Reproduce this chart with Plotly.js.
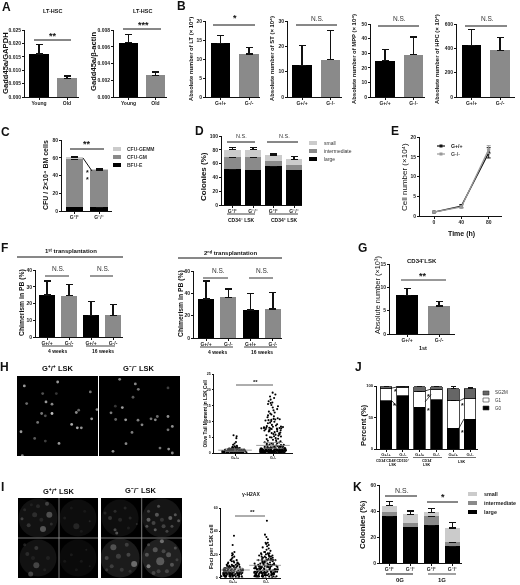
<!DOCTYPE html>
<html><head><meta charset="utf-8">
<script src="https://cdn.plot.ly/plotly-3.0.0.min.js"></script>
<style>html,body{margin:0;padding:0;background:#fff}#g{width:520px;height:585px;filter:blur(0.3px)}</style>
</head><body><div id="g"></div>
<script>
// ---------- data ----------
const youngOld = ['Young','Old'];
const wtKo = ['G+/+','G-/-'];
const wtKoSup = ['G⁺/⁺','G⁻/⁻'];
const a1Values=[0.016,0.007], a1Err=[0.0035,0.0008];
const a2Values=[0.0065,0.0026], a2Err=[0.001,0.0004];
const bLtValues=[14.1,11.3], bLtErr=[2.1,1.8];
const bStValues=[12.5,14.7], bStErr=[7.8,11.5];
const bMppValues=[25,29], bMppErr=[7.3,12];
const bHpcValues=[425,383], bHpcErr=[130,105];
const cBfu=[5,4.5], cBfuErr=[1,0.8];
const cGm=[53.5,41.7], cGmErr=[1,0.8];
const cGemm=[2,0.8], cGemmErr=[0.5,0.5];
const dLabels=['G⁺/⁺','G⁻/⁻','G⁺/⁺','G⁻/⁻'];
const dLarge=[52,51,56,51.4], dLargeErr=[8,7.5,2.5,3];
const dInter=[17,18,8,7.2], dInterErr=[7,9,2,2];
const dSmall=[11,11,8,7.4], dSmallErr=[3,3,2,4];
const eTime=[0,40,80];
const eWt=[1,2.5,16], eWtErr=[0.2,0.4,1.3];
const eKo=[1,2.3,16.8], eKoErr=[0.2,0.3,1];
const fLabels=['G+/+','G-/-','G+/+','G-/-'];
const f1Values=[25,24.7,13,13], f1Err=[8.5,6.8,8,6.5];
const f2Values=[35,36.5,25,26], f2Err=[16,7.5,15,14.5];
const gValues=[8.3,6], gErr=[1.4,0.9];
const jLabels=['G+/+','G-/-','G+/+','G-/-','G+/+','G-/-'];
const jG0=[76.5,84.5,66,78,33,47], jG0Err=[5.5,3.5,7,6,2,9];
const jG1=[19.5,12.5,26,16,44,33], jG1Err=[0.8,0.8,1,1,1,7];
const jS=[3,2.5,7,5,19,16], jSErr=[1.2,1,1.5,1.5,3,2];
const kLabels=['G⁺/⁺','G⁻/⁻','G⁺/⁺','G⁻/⁻'];
const kLarge=[36,28,29,13], kLargeErr=[5,4,4.5,3];
const kInter=[3.5,3,7,3], kInterErr=[0.5,0.5,0.5,0.5];
const kSmall=[4.5,6.5,3,11], kSmallErr=[3.5,2.5,3,4];
const hWt=[0.05,0.05,0.1,0.1,0.1,0.1,0.15,0.15,0.2,0.2,0.2,0.2,0.2,0.2,0.25,0.25,0.3,0.3,0.3,0.3,0.3,0.3,0.3,0.35,0.35,0.4,0.4,0.4,0.4,0.4,0.4,0.4,0.45,0.45,0.5,0.5,0.5,0.5,0.5,0.5,0.5,0.55,0.55,0.6,0.6,0.6,0.6,0.6,0.6,0.65,0.65,0.7,0.7,0.7,0.7,0.7,0.7,0.75,0.75,0.8,0.8,0.8,0.8,0.8,0.85,0.85,0.9,0.9,0.9,0.9,0.95,1,1,1,1,1,1,1.1,1.1,1.1,1.2,1.2,1.2,1.2,1.3,1.3,1.3,1.4,1.4,1.5,1.5,1.5,1.6,1.6,1.7,1.8,1.9,2,2.1,2.3,2.6,3,3.5,4.7,5.3,5.6];
const hKo=[0.05,0.05,0.05,0.1,0.1,0.1,0.1,0.1,0.15,0.15,0.15,0.2,0.2,0.2,0.2,0.2,0.2,0.25,0.25,0.25,0.3,0.3,0.3,0.3,0.3,0.3,0.3,0.35,0.35,0.35,0.4,0.4,0.4,0.4,0.4,0.4,0.45,0.45,0.45,0.5,0.5,0.5,0.5,0.5,0.5,0.5,0.5,0.55,0.55,0.55,0.6,0.6,0.6,0.6,0.6,0.6,0.6,0.65,0.65,0.7,0.7,0.7,0.7,0.7,0.7,0.75,0.75,0.8,0.8,0.8,0.8,0.8,0.8,0.85,0.85,0.9,0.9,0.9,0.9,0.9,0.95,0.95,1,1,1,1,1,1,1,1.05,1.1,1.1,1.1,1.1,1.15,1.2,1.2,1.2,1.2,1.25,1.3,1.3,1.3,1.3,1.4,1.4,1.4,1.4,1.5,1.5,1.5,1.5,1.6,1.6,1.6,1.7,1.7,1.7,1.8,1.8,1.8,1.9,1.9,2,2,2,2.1,2.1,2.2,2.2,2.3,2.3,2.4,2.5,2.5,2.6,2.7,2.8,2.9,3,3.1,3.3,3.4,3.5,3.7,3.9,4,4.2,4.4,4.5,4.7,4.9,5,5.2,5.3,5.5,5.6,5.8,5.9,6,6.2,6.3,6.5,6.6,6.8,6.9,7,7.1,7.2,7.3,7.4,7.5,7.6,7.7,7.7,7.8,7.8,7.9,7.9,8,8,8.1,8.2,8.3,8.4,8.5,8.7,8.9,9.1,9.4,9.6,9.9,10.1,10.3,10.4,10.5,10.6,10.7,10.8,11,11.3,11.6,11.9,12.2,12.5,12.8,13.1,13.5,13.9,14.4,14.8,15.2,15.5,15.8,16,16.4,16.9,17.4,17.9,18.5,19.1];
const iWt=[0,0,0,0,0,0,0,0,1,1,1,1,1,1,1,1,1,1,1,1,2,2,2,2,2,2,2,2,2,2,2,2,3,3,3,3,3,3,3,3,3,3,3,3,4,4,4,4,4,4,4,4,4,4,4,5,5,5,5,5,5,5,5,5,5,6,6,6,6,6,6,6,6,6,7,7,7,7,7,7,7,7,8,8,8,8,8,8,8,9,9,9,9,9,10,10,10,10,10,11,11,11,11,12,12,12,13,13,13,14,14,15,15,16,17,18,19,20,21,22,28,36];
const iKo=[0,0,0,0,0,0,0,0,1,1,1,1,1,1,1,1,1,1,1,2,2,2,2,2,2,2,2,2,2,2,3,3,3,3,3,3,3,3,3,3,3,4,4,4,4,4,4,4,4,4,4,5,5,5,5,5,5,5,5,5,5,6,6,6,6,6,6,6,6,6,7,7,7,7,7,7,7,7,7,8,8,8,8,8,8,8,8,9,9,9,9,9,9,9,10,10,10,10,10,10,10,11,11,11,11,11,11,12,12,12,12,12,12,13,13,13,13,14,14,14,14,15,15,15,15,15,15,15,15,15,15,16,16,16,16,17,17,17,18,18,18,18,19,19,19,20,20,20,21,21,21,22,22,23,24,25,26,27,28,29,30,30,33,35,37,49];
const hMean=[0.9,2.4], hSem=[0.4,0.9];
const iMean=[6.5,10.5], iSem=[1.5,4.5];
// comet-assay spots (image coordinates)
const h1X=[72,172,270,127,168,137,155,79,124,135,155,228,235,290,274,112,214,231,243,62,103,135,176,66];
const h1Y=[92,80,110,115,115,140,147,145,175,182,175,172,165,163,191,202,208,218,218,230,250,258,265,302];
const h1G=[170,170,130,90,60,170,150,120,130,90,210,150,110,150,170,130,190,190,160,170,100,70,170,150];
const h2X=[360,407,416,505,400,347,368,334,348,378,415,427,454,467,473,505,518,505,397,379,340,481,507,518];
const h2Y=[72,86,102,98,126,153,157,173,193,194,195,209,191,194,184,184,214,224,232,266,289,279,282,294];
const h2G=[150,150,130,70,100,60,170,140,110,170,140,150,130,150,120,160,160,130,140,150,160,130,160,150];
// gamma-H2AX nuclei (image coordinates, size, grey level)
const iCellX=[70,190,70,190,315,440,315,440];
const iCellY=[70,70,190,190,70,70,190,190];
const iCellS=[39,37,37,37,37,39,39,39];
const iCellG=[26,18,26,14,20,30,38,46];
const iFociX=[104,85,97,22,42,60,70,110,30,80,50,185,150,210,170,225,200,65,48,65,38,100,30,90,55,170,200,215,150,185,225,300,305,285,300,330,345,270,340,315,365,400,425,465,420,445,480,430,400,455,490,415,470,395,440,357,295,275,310,335,290,340,320,275,345,440,400,435,420,460,395,470,455,415,480,445,430,400,485];
const iFociY=[60,103,27,72,92,60,35,88,45,75,30,95,70,50,40,80,110,212,238,160,178,190,150,225,190,180,200,165,200,225,215,105,115,70,50,40,70,55,100,75,88,75,60,70,105,95,60,35,50,110,78,85,95,95,75,208,158,190,185,150,215,180,225,225,230,140,215,200,165,180,180,210,230,235,160,170,230,150,195];
const iFociS=[6,6,4,3,4,5,4,3,3,4,3,6,3,3,3,2,3,6,5,4,4,4,3,3,4,3,3,2,3,3,2,3,3,4,3,3,3,3,3,4,2,4,4,4,3,4,3,3,3,3,3,4,3,3,4,6,6,4,5,4,4,4,4,3,3,4,4,8,5,5,4,4,4,4,3,4,4,3,3];
const iFociG=[110,120,90,90,70,60,50,60,50,50,40,50,40,30,30,50,30,95,95,70,55,40,50,40,40,35,30,40,30,30,35,110,120,70,60,50,50,50,40,50,60,130,120,130,130,90,120,110,90,90,120,90,100,110,70,150,110,90,80,80,80,90,70,70,60,150,170,120,110,110,110,110,90,90,100,90,80,90,80];

// ---------- helpers ----------
const FONT='Liberation Sans, Arial, sans-serif';
const W=520,H=585;
const data=[],shapes=[],ann=[],layout={};
const imageAxes=[];
let n=0;
const px=v=>v/W, py=v=>1-v/H;
function T(text,x,y,size,o={}){
  ann.push({text,x:px(x),y:py(y),xref:'paper',yref:'paper',showarrow:false,xanchor:o.anchor||'center',yanchor:'middle',
    textangle:o.angle||0,font:{family:FONT,size,color:o.color||'#111',weight:o.bold?700:400}});
}
function L(x0,y0,x1,y1,w=1,c='#111'){shapes.push({type:'line',xref:'paper',yref:'paper',x0:px(x0),x1:px(x1),y0:py(y0),y1:py(y1),line:{color:c,width:w}});}
function R(x0,y0,x1,y1,c,border){shapes.push({type:'rect',xref:'paper',yref:'paper',x0:px(x0),x1:px(x1),y0:py(y0),y1:py(y1),fillcolor:c,line:{width:border?0.6:0,color:'#333'}});}
function axes(ax0,ax1,top,bot,xr,yr,xo,yo,tick=5){
  n++;const id=n===1?'':n;
  layout['xaxis'+id]=Object.assign({domain:[px(ax0),px(ax1)],range:xr,anchor:'y'+id,showline:true,linecolor:'#111',linewidth:1,ticks:'outside',ticklen:2,tickwidth:1,tickcolor:'#111',showgrid:false,zeroline:false,fixedrange:true,tickfont:{family:FONT,size:tick,weight:700,color:'#222'},ticklabelstandoff:-1},xo||{});
  layout['yaxis'+id]=Object.assign({domain:[py(bot),py(top)],range:yr,anchor:'x'+id,showline:true,linecolor:'#111',linewidth:1,ticks:'outside',ticklen:2,tickwidth:1,tickcolor:'#111',showgrid:false,zeroline:false,fixedrange:true,tickfont:{family:FONT,size:tick,weight:700,color:'#222'}},yo||{});
  return {x:'x'+id,y:'y'+id};
}
function barPanel(o){
  const {ax0,ax1,top,bot,c0,s,barPx,ymax,ticks,labels,series,fmt}=o;
  const xr=[(ax0-c0)/s,(ax1-c0)/s];
  const a=axes(ax0,ax1,top,bot,xr,[0,ymax],
    {tickmode:'array',tickvals:labels.map((_,i)=>i),ticktext:labels},
    {tickmode:'array',tickvals:ticks,ticktext:ticks.map(t=>fmt?t.toFixed(fmt):String(t))},o.tick||5);
  series.forEach(t=>data.push({type:'bar',xaxis:a.x,yaxis:a.y,x:labels.map((_,i)=>i),y:t.y,width:barPx/s,
    marker:{color:t.c,line:{width:o.outline||0,color:'#000'}},
    error_y:{type:'data',symmetric:false,array:t.e,arrayminus:t.e.map(()=>0),color:'#111',thickness:o.eth||1.3,width:o.ew||3.5}}));
}
const K='#000',G='#8a8a8a',LG='#cbcbcb';
function stars(x,y,t,size=9){T(t,x,y,size,{bold:true});}
function ns(x,y,size=6.5){T('N.S.',x,y,size,{color:'#333'});}

// ---------- A ----------
T('A',6,7,12,{bold:true});
T('LT-HSC',52,11,5.5,{bold:true});
barPanel({ax0:25,ax1:79,top:30,bot:97,c0:39,s:28,barPx:19.5,ymax:0.025,ticks:[0,0.005,0.01,0.015,0.02,0.025],fmt:3,labels:youngOld,
  series:[{y:a1Values,e:a1Err,c:K}]});
data[data.length-1].marker.color=[K,G];
T('Gadd45a/GAPDH',5,63,7.6,{angle:-90,bold:true});
L(34,40,71,40);stars(53,36,'**');
T('LT-HSC',142,11,5.5,{bold:true});
barPanel({ax0:114,ax1:167,top:30,bot:97,c0:128.5,s:27,barPx:19,ymax:0.008,ticks:[0,0.002,0.004,0.006,0.008],fmt:3,labels:youngOld,
  series:[{y:a2Values,e:a2Err,c:K}]});
data[data.length-1].marker.color=[K,G];
T('Gadd45a/β-actin',94,62,7.6,{angle:-90,bold:true});
L(123,29,161,29);stars(143,25,'***');

// ---------- B ----------
T('B',181,6,12,{bold:true});
function bPanel(ax0,ax1,top,c0,s,ymax,ticks,vals,err,title,tx){
  barPanel({ax0,ax1,top,bot:97,c0,s,barPx:19.5,ymax,ticks,labels:wtKo,series:[{y:vals,e:err,c:K}]});
  data[data.length-1].marker.color=[K,G];
  T(title,tx,59,5.9,{angle:-90,bold:true});
}
bPanel(206,260,21,220.5,28.5,20,[0,5,10,15,20],bLtValues,bLtErr,'Absolute number of LT (× 10⁴)',191);
L(213,25,255,25);stars(235,18,'*');
bPanel(288,342,21,302,28.5,30,[0,10,20,30],bStValues,bStErr,'Absolute number of ST (× 10⁴)',272);
L(296,25,337,25);ns(317,18);
bPanel(371,425,24,385,28.5,50,[0,10,20,30,40,50],bMppValues,bMppErr,'Absolute number of MPP (× 10⁴)',354);
L(378,26,419,26);ns(399,19);
bPanel(457,515,24,471.5,28.5,600,[0,200,400,600],bHpcValues,bHpcErr,'Absolute number of HPC (× 10⁴)',437);
L(465,26,507,26);ns(487,19);

// ---------- C ----------
T('C',5,132,12,{bold:true});
barPanel({ax0:62,ax1:112,top:140,bot:211,c0:74.5,s:24.5,barPx:17.5,ymax:80,ticks:[0,20,40,60,80],labels:wtKoSup,
  series:[{y:cBfu,e:cBfuErr,c:K},{y:cGm,e:cGmErr,c:G},{y:cGemm,e:cGemmErr,c:LG}]});
T('CFU / 2×10⁴ BM cells',45,175,7,{angle:-90,bold:true});
L(70,149,104,149);stars(87,144,'**');
L(83,158,92,171);T('*',87,172,7,{bold:true});T('*',87,179,7,{bold:true});
[[149,LG,'CFU-GEMM'],[157,G,'CFU-GM'],[165,K,'BFU-E']].forEach(r=>{R(113,r[0]-2,121,r[0]+2,r[1]);T(r[2],125,r[0],5,{anchor:'left',bold:true,color:'#333'});});

// ---------- D ----------
T('D',199,131,12,{bold:true});
barPanel({ax0:222,ax1:302,top:136,bot:205,c0:232.5,s:20.5,barPx:16.5,ymax:100,ticks:[0,20,40,60,80,100],labels:dLabels,
  series:[{y:dLarge,e:dLargeErr,c:K},{y:dInter,e:dInterErr,c:G},{y:dSmall,e:dSmallErr,c:LG}]});
T('Colonies (%)',203,177,8,{angle:-90,bold:true});
L(227,142,255,142);ns(241,136,5.5);L(267,142,298,142);ns(284,136,5.5);
L(227,214,255,214,0.8);L(269,214,298,214,0.8);
T('CD34⁻ LSK',241,220,5,{bold:true});T('CD34⁺ LSK',284,220,5,{bold:true});
[[143,LG,'small'],[151,G,'intermediate'],[159,K,'large']].forEach(r=>{R(309,r[0]-2,317,r[0]+2,r[1]);T(r[2],322,r[0],5,{anchor:'left',color:'#333'});});

// ---------- E ----------
T('E',395,131,12,{bold:true});
const eAx=axes(420,502,137,216,[-20.5,99.5],[0,20],{tickmode:'array',tickvals:eTime},{tickmode:'array',tickvals:[0,5,10,15,20]});
[[eWt,eWtErr,'#111'],[eKo,eKoErr,'#999']].forEach(r=>data.push({type:'scatter',mode:'lines+markers',xaxis:eAx.x,yaxis:eAx.y,x:eTime,y:r[0],
  line:{color:r[2],width:1.3},marker:{color:r[2],size:3.5},error_y:{type:'data',array:r[1],color:r[2],thickness:1,width:2}}));
T('Cell number (×10⁴)',404,177,8,{angle:-90});
T('Time (h)',461,234,7,{bold:true});
L(437,146,445,146,1.2,'#111');L(437,154,445,154,1.2,'#999');R(439.5,144.5,442.5,147.5,'#111');R(439.5,152.5,442.5,155.5,'#999');
T('G+/+',449,145.5,5.2,{anchor:'left',bold:true});T('G-/-',449,154,5.2,{anchor:'left',bold:true,color:'#444'});

// ---------- F ----------
T('F',4,248,12,{bold:true});
T('1ˢᵗ transplantation',71,251,6,{bold:true});L(17,257,123,257);
barPanel({ax0:36,ax1:123,top:270,bot:337,c0:47,s:22,barPx:16,ymax:40,ticks:[0,10,20,30,40],labels:fLabels,series:[{y:f1Values,e:f1Err,c:K}]});
data[data.length-1].marker.color=[K,G,K,G];
T('Chimerism in PB (%)',22,303,6.8,{angle:-90,bold:true});
L(45,276,69,276,1,'#333');ns(58,269);L(90,276,113,276,1,'#333');ns(103,269);
L(42,346,73,346,0.8);L(86,346,115,346,0.8);T('4 weeks',57,350.5,5,{bold:true});T('16 weeks',103,350.5,5,{bold:true});
T('2ⁿᵈ transplantation',230,253,6,{bold:true});L(178,258,282,258);
barPanel({ax0:194,ax1:282,top:271,bot:338,c0:206,s:22.3,barPx:16,ymax:60,ticks:[0,20,40,60],labels:fLabels,series:[{y:f2Values,e:f2Err,c:K}]});
data[data.length-1].marker.color=[K,G,K,G];
T('Chimerism in PB (%)',181,304,6.8,{angle:-90,bold:true});
L(203,278,228,278,1,'#333');ns(218,270);L(249,278,273,278,1,'#333');ns(262,270);
L(200,347,233,347,0.8);L(244,347,277,347,0.8);T('4 weeks',217,352,5,{bold:true});T('16 weeks',262,352,5,{bold:true});

// ---------- G ----------
T('G',362,248,12,{bold:true});
T('CD34⁻LSK',422,261,6,{bold:true});
barPanel({ax0:390,ax1:455,top:264,bot:334,c0:407,s:32,barPx:22,ymax:15,ticks:[0,5,10,15],labels:wtKo,series:[{y:gValues,e:gErr,c:K}]});
data[data.length-1].marker.color=[K,G];
T('Absolute number (×10³)',377,295,7.4,{angle:-90});
L(401,280,446,280,1,'#333');stars(423,275.5,'**');
T('1st',423,348,5.5,{bold:true});

// ---------- H ----------
T('H',4,367,12,{bold:true});
T('G⁺/⁺ LSK',58,368,7.5,{bold:true});T('G⁻/⁻ LSK',139,368,7.5,{bold:true});
function image(ax0,ax1,top,bot,xr,yr,blur){
  R(ax0,top,ax1,bot,'#000');
  shapes[shapes.length-1].layer='below';
  const off={showticklabels:false,showline:false,ticks:'',tickmode:'array',tickvals:[]};
  const a=axes(ax0,ax1,top,bot,xr,yr,off,off);
  imageAxes.push([a.x+a.y,blur]);
  return a;
}
const h1=image(17,98,376,456,[50,293],[303,62],0.5);
data.push({type:'scatter',mode:'markers',xaxis:h1.x,yaxis:h1.y,x:h1X,y:h1Y,marker:{size:2.8,opacity:0.9,color:h1G.map(v=>`rgb(${v},${v},${v})`),line:{width:0}}});
const h2=image(99,180,376,456,[298,541],[303,62],0.5);
data.push({type:'scatter',mode:'markers',xaxis:h2.x,yaxis:h2.y,x:h2X,y:h2Y,marker:{size:2.8,opacity:0.9,color:h2G.map(v=>`rgb(${v},${v},${v})`),line:{width:0}}});
function swarm(ax0,ax1,top,bot,c0,s,ymax,ticks,a,b,mean,sem,barW){
  const ax=axes(ax0,ax1,top,bot,[(ax0-c0)/s,(ax1-c0)/s],[0,ymax],{tickmode:'array',tickvals:[0,1],ticktext:wtKo,ticklen:1.5},{tickmode:'array',tickvals:ticks,ticklen:1.5},3.6);
  [a,b].forEach((v,i)=>data.push({type:'box',xaxis:ax.x,yaxis:ax.y,y:v,x0:i,width:barW[i],boxpoints:'all',jitter:1,pointpos:0,
    line:{width:0,color:'rgba(0,0,0,0)'},fillcolor:'rgba(0,0,0,0)',marker:{size:2.1,color:'#000'}}));
  data.push({type:'scatter',mode:'markers',xaxis:ax.x,yaxis:ax.y,x:[0,1],y:mean,marker:{symbol:'line-ew-open',size:24,color:'#888',line:{width:0.8,color:'#888'}},
    error_y:{type:'data',array:sem,color:'#888',thickness:0.8,width:10}});
}
swarm(214,293,374,453,235,38,25,[0,5,10,15,20,25],hWt,hKo,hMean,hSem,[0.68,0.68]);
T('Olive Tail Moment in LSK Cell',204.5,414,4.8,{angle:-90,bold:true});
L(236,385,273,385,0.8,'#333');stars(255,382,'**',6);

// ---------- I ----------
T('I',2,487,12,{bold:true});
T('G⁺/⁺ LSK',59,491,7.5,{bold:true});T('G⁻/⁻ LSK',141,490,7.5,{bold:true});
const i1=image(18,98,498,578,[10,250],[250,10],0.7);
const i2=image(101,182,498,578,[258,500],[250,10],0.7);
[[i1,0,4,0,31],[i2,4,8,31,79]].forEach(r=>{
  const ax=r[0];
  data.push({type:'scatter',mode:'markers',xaxis:ax.x,yaxis:ax.y,x:iCellX.slice(r[1],r[2]),y:iCellY.slice(r[1],r[2]),
    marker:{size:iCellS.slice(r[1],r[2]),color:iCellG.slice(r[1],r[2]).map(v=>`rgb(${v},${v},${v})`),line:{width:0}}});
  data.push({type:'scatter',mode:'markers',xaxis:ax.x,yaxis:ax.y,x:iFociX.slice(r[3],r[4]),y:iFociY.slice(r[3],r[4]),
    marker:{size:iFociS.slice(r[3],r[4]),opacity:0.65,color:iFociG.slice(r[3],r[4]).map(v=>`rgb(${v},${v},${v})`),line:{width:0}}});
});
L(59,498,59,578,0.8,'#999');L(18,538,98,538,0.8,'#999');L(141.7,498,141.7,578,0.8,'#999');L(101,538,182,538,0.8,'#999');
swarm(221,281,508,577.5,233,33,60,[0,20,40,60],iWt,iKo,iMean,iSem,[0.72,0.72]);
T('γ-H2AX',251,494,5,{bold:true});
T('Foci per LSK cell',211,547,5.5,{angle:-90,bold:true});
L(235,516,265,516,0.8,'#333');stars(252,512,'**',6);

// ---------- J ----------
T('J',358,367,12,{bold:true});
barPanel({ax0:377,ax1:478,top:386,bot:449,c0:386,s:16.8,barPx:11.7,ymax:100,ticks:[0,50,100],labels:jLabels,eth:1,ew:2.5,outline:0.7,tick:4.2,
  series:[{y:jG0,e:jG0Err,c:K},{y:jG1,e:jG1Err,c:'#fff'},{y:jS,e:jSErr,c:'#666'}]});
T('Percent (%)',363,425,7.5,{angle:-90,bold:true});
[[392,401,397,406.5],[392,388,397,387],[425,402,431,394.5],[425,391,431,389],[459,428,464,419],[459,401,464,398.5]].forEach(p=>L(p[0],p[1],p[2],p[3],0.8));
[[395,391],[394,404],[428,395],[428,409],[462,404],[462,431]].forEach(p=>T('*',p[0],p[1]+1,7,{bold:true}));
L(380,457.5,408,457.5,0.6);L(413,457.5,442,457.5,0.6);L(448,457.5,476,457.5,0.6);
T('CD34⁻CD48⁻CD150⁺',393,461,3.6,{bold:true});T('LSK',393,465,3.6,{bold:true});
T('CD34⁻',427,461,3.6,{bold:true});T('LSK',427,465,3.6,{bold:true});T('LSK',462,462,3.6,{bold:true});
[[393,'#666','SG2M'],[400,'#fff','G1'],[408,K,'G0']].forEach(r=>{R(483,r[0]-2,489,r[0]+2,r[1],true);T(r[2],493,r[0],4.5,{anchor:'left',color:'#333'});});

// ---------- K ----------
T('K',357,487,12,{bold:true});
barPanel({ax0:380,ax1:462,top:485,bot:563,c0:389.5,s:21,barPx:15,ymax:60,ticks:[0,20,40,60],labels:kLabels,eth:1.2,ew:3.5,
  series:[{y:kLarge,e:kLargeErr,c:K},{y:kInter,e:kInterErr,c:G},{y:kSmall,e:kSmallErr,c:LG}]});
T('Colonies (%)',362,525,8,{angle:-90,bold:true});
L(385,496,417,496);ns(402,490,7);L(427,502,458,502);stars(443,497,'*');
L(386,574,413,574);L(428,574,456,574,1,'#444');T('0G',400,580,6,{bold:true});T('1G',442,580,6,{bold:true});
[[494,LG,'small'],[503,G,'intermediate'],[512,K,'large']].forEach(r=>{R(468,r[0]-2,477,r[0]+2,r[1]);T(r[2],482,r[0],5.4,{anchor:'left',bold:true,color:'#222'});});

Object.assign(layout,{width:W,height:H,margin:{l:0,r:0,t:0,b:0},paper_bgcolor:'#fff',plot_bgcolor:'rgba(0,0,0,0)',showlegend:false,barmode:'stack',boxmode:'overlay',bargap:0,shapes,annotations:ann,font:{family:FONT}});
Plotly.newPlot('g',data,layout,{displayModeBar:false,responsive:false,staticPlot:true}).then(()=>{
  imageAxes.forEach(r=>{
    const el=document.querySelector('.subplot.'+r[0]+' .scatterlayer');
    if(el) el.style.filter='blur('+r[1]+'px)';
  });
});
</script></body></html>
